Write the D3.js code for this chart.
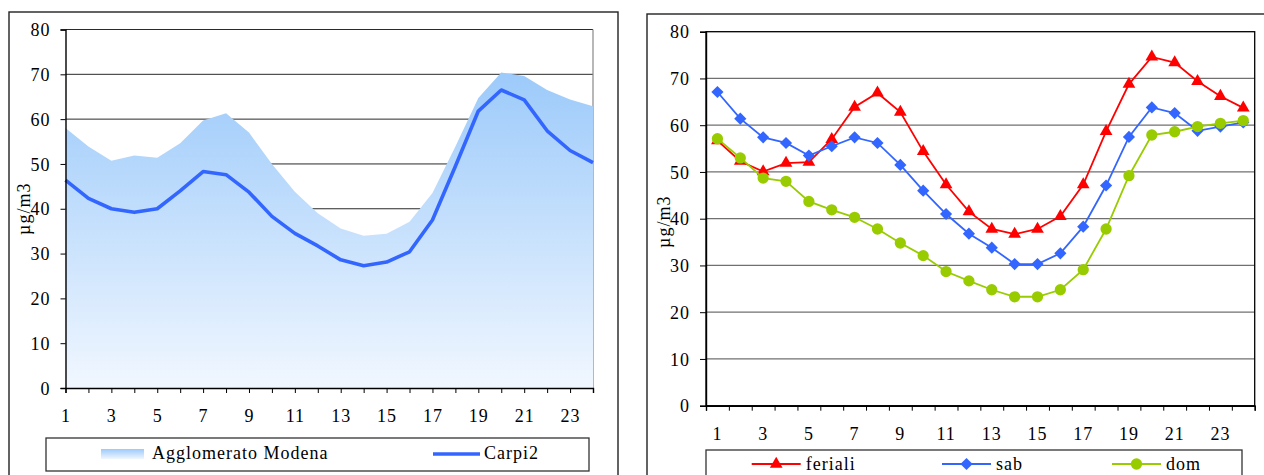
<!DOCTYPE html>
<html><head><meta charset="utf-8">
<script src="https://cdn.jsdelivr.net/npm/d3@7"></script>
<style>
html,body{margin:0;padding:0;background:#fff;}
svg{display:block;}
text{font-family:"Liberation Serif","Times New Roman",serif;font-size:18px;letter-spacing:1px;fill:#000;}
</style></head>
<body>
<svg id="c" width="1264" height="475"></svg>
<script>
const hours = d3.range(1, 25);
const yTicks = [0, 10, 20, 30, 40, 50, 60, 70, 80];
const xLabels = [1, 3, 5, 7, 9, 11, 13, 15, 17, 19, 21, 23];
const yTitle = "µg/m3";

// Left chart
const modena = [58.0, 53.9, 50.7, 51.9, 51.4, 54.6, 59.7, 61.3, 57.0, 50.0, 43.8, 39.0, 35.6, 34.0, 34.4, 37.1, 43.5, 53.9, 64.7, 70.4, 69.6, 66.5, 64.4, 62.9];
const carpi2 = [46.4, 42.3, 40.0, 39.2, 40.0, 44.0, 48.3, 47.6, 43.7, 38.3, 34.5, 31.7, 28.6, 27.3, 28.1, 30.4, 37.5, 49.5, 61.8, 66.5, 64.3, 57.4, 53.0, 50.3];
const leftLegend = ["Agglomerato Modena", "Carpi2"];

// Right chart
const feriali = [56.7, 52.3, 50.1, 51.9, 52.1, 57.0, 63.9, 66.9, 62.8, 54.4, 47.3, 41.5, 37.8, 36.7, 37.8, 40.5, 47.3, 58.7, 68.8, 74.6, 73.4, 69.4, 66.2, 63.7];
const sab = [67.1, 61.4, 57.4, 56.2, 53.5, 55.5, 57.4, 56.2, 51.5, 46.0, 41.0, 36.8, 33.8, 30.3, 30.3, 32.6, 38.3, 47.1, 57.5, 63.8, 62.6, 58.8, 59.7, 60.6];
const dom = [57.1, 53.0, 48.7, 48.0, 43.7, 41.9, 40.3, 37.8, 34.8, 32.1, 28.7, 26.7, 24.8, 23.3, 23.3, 24.8, 29.1, 37.8, 49.2, 57.9, 58.6, 59.7, 60.4, 61.0];
const rightNames = ["feriali", "sab", "dom"];

const svg = d3.select("#c");
const defs = svg.append("defs");
const grad = defs.append("linearGradient").attr("id", "ag").attr("x1", 0).attr("y1", 0).attr("x2", 0).attr("y2", 1);
grad.append("stop").attr("offset", "0%").attr("stop-color", "#9ccafa");
grad.append("stop").attr("offset", "100%").attr("stop-color", "#f1f7ff");

// ---------- LEFT PANEL ----------
svg.append("rect").attr("x", 9).attr("y", 12).attr("width", 609).attr("height", 480)
  .attr("fill", "#fff").attr("stroke", "#222").attr("stroke-width", 1.4);

const xL = d3.scalePoint().domain(hours).range([65.5, 593]);
const yL = d3.scaleLinear().domain([0, 80]).range([388, 29.5]);

const gL = svg.append("g");
gL.selectAll("line.grid").data(yTicks.filter(d => d > 0)).join("line")
  .attr("x1", 65.5).attr("x2", 593).attr("y1", d => yL(d)).attr("y2", d => yL(d))
  .attr("stroke", "#2a2a2a").attr("stroke-width", 1);
gL.append("line").attr("x1", 593).attr("x2", 593).attr("y1", yL(80)).attr("y2", yL(0))
  .attr("stroke", "#888").attr("stroke-width", 1.2);

const area = d3.area().x((d, i) => xL(hours[i])).y0(yL(0)).y1(d => yL(d));
gL.append("path").datum(modena).attr("d", area).attr("fill", "url(#ag)");

const lineL = d3.line().x((d, i) => xL(hours[i])).y(d => yL(d));
gL.append("path").datum(carpi2).attr("d", lineL).attr("fill", "none")
  .attr("stroke", "#3366ff").attr("stroke-width", 3.6).attr("stroke-linejoin", "round");

// axes
const axLy = gL.append("g").attr("transform", "translate(65.5,0)")
  .call(d3.axisLeft(yL).tickValues(yTicks).tickSize(5).tickPadding(10).tickFormat(d3.format("d")));
const axLx = gL.append("g").attr("transform", `translate(0,${yL(0)})`)
  .call(d3.axisBottom(xL).tickSize(5).tickFormat(d => xLabels.includes(d) ? d : ""));
[axLy, axLx].forEach(a => {
  a.attr("font-size", null).attr("font-family", null);
  a.select(".domain").attr("stroke", "#000").attr("stroke-width", 1.4);
  a.selectAll(".tick line").attr("stroke", "#000").attr("stroke-width", 1);
  a.selectAll("text").attr("fill", "#000");
});
axLy.selectAll("text").attr("dy", "0.34em");
axLx.selectAll("text").attr("dy", null).attr("y", 33.5);

svg.append("text").attr("transform", `translate(30,${(yL(0) + yL(80)) / 2}) rotate(-90)`)
  .attr("text-anchor", "middle").text(yTitle);

// legend left
svg.append("rect").attr("x", 46).attr("y", 438).attr("width", 543).attr("height", 33)
  .attr("fill", "#fff").attr("stroke", "#333").attr("stroke-width", 1.3);
svg.append("rect").attr("x", 101).attr("y", 449).attr("width", 43).attr("height", 10).attr("fill", "url(#ag)");
svg.append("text").attr("x", 152).attr("y", 459).text(leftLegend[0]);
svg.append("line").attr("x1", 433).attr("x2", 480).attr("y1", 454).attr("y2", 454)
  .attr("stroke", "#3366ff").attr("stroke-width", 3.6);
svg.append("text").attr("x", 484).attr("y", 459).text(leftLegend[1]);

// ---------- RIGHT PANEL ----------
svg.append("rect").attr("x", 647).attr("y", 14).attr("width", 640).attr("height", 480)
  .attr("fill", "#fff").attr("stroke", "#222").attr("stroke-width", 1.4);

const xR = d3.scaleBand().domain(hours).range([706, 1254.7]);
const xRb = d3.scaleLinear().domain([0, 24]).range([706, 1254.7]);
const yR = d3.scaleLinear().domain([0, 80]).range([405.7, 31.7]);
const gR = svg.append("g");
gR.selectAll("line.grid").data(yTicks.filter(d => d > 0 && d < 80)).join("line")
  .attr("x1", 706).attr("x2", 1254.7).attr("y1", d => yR(d)).attr("y2", d => yR(d))
  .attr("stroke", "#707070").attr("stroke-width", 1.3);
gR.append("rect").attr("x", 706).attr("y", yR(80)).attr("width", 1254.7 - 706).attr("height", yR(0) - yR(80))
  .attr("fill", "none").attr("stroke", "#000").attr("stroke-width", 1.3);

const axRy = gR.append("g").attr("transform", "translate(706,0)")
  .call(d3.axisLeft(yR).tickValues(yTicks).tickSize(6).tickPadding(10).tickFormat(d3.format("d")));
const axRt = gR.append("g").attr("transform", `translate(0,${yR(0)})`)
  .call(d3.axisBottom(xRb).tickValues(d3.range(0, 25)).tickSize(5).tickFormat(""));
const axRx = gR.append("g").attr("transform", `translate(0,${yR(0)})`)
  .call(d3.axisBottom(xR).tickSize(0).tickFormat(d => xLabels.includes(d) ? d : ""));
axRx.select(".domain").remove();
[axRy, axRt, axRx].forEach(a => a.attr("font-size", null).attr("font-family", null));
[axRy, axRt].forEach(a => {
  a.select(".domain").attr("stroke", "#000").attr("stroke-width", 1.4);
  a.selectAll(".tick line").attr("stroke", "#000").attr("stroke-width", 1);
});
[axRy, axRx].forEach(a => a.selectAll("text").attr("fill", "#000"));
axRy.selectAll("text").attr("dy", "0.34em");
axRx.selectAll("text").attr("dy", null).attr("y", 34.3);

svg.append("text").attr("transform", `translate(670,${(yR(0) + yR(80)) / 2 + 3}) rotate(-90)`)
  .attr("text-anchor", "middle").text(yTitle);

const series = [
  {name: rightNames[0], vals: feriali, color: "#ff0000", sym: d3.symbolTriangle, size: 70, rot: 0},
  {name: rightNames[1], vals: sab, color: "#3366ff", sym: d3.symbolSquare, size: 74, rot: 45},
  {name: rightNames[2], vals: dom, color: "#99cc00", sym: d3.symbolCircle, size: 100, rot: 0}
];
const lineR = d3.line().x((d, i) => xR(hours[i]) + xR.bandwidth() / 2).y(d => yR(d));
series.forEach(s => {
  const g = gR.append("g");
  g.append("path").datum(s.vals).attr("d", lineR).attr("fill", "none")
    .attr("stroke", s.color).attr("stroke-width", 1.8);
  g.selectAll("path.m").data(s.vals).join("path").attr("class", "m")
    .attr("d", d3.symbol(s.sym, s.size))
    .attr("transform", (d, i) => `translate(${xR(hours[i]) + xR.bandwidth() / 2},${yR(d)}) rotate(${s.rot})`)
    .attr("fill", s.color);
});

// legend right
svg.append("rect").attr("x", 706).attr("y", 450).attr("width", 536).attr("height", 40)
  .attr("fill", "#fff").attr("stroke", "#333").attr("stroke-width", 1.3);
const legX = [751.7, 942, 1112];
series.forEach((s, i) => {
  const x0 = legX[i];
  svg.append("line").attr("x1", x0).attr("x2", x0 + 49).attr("y1", 464).attr("y2", 464)
    .attr("stroke", s.color).attr("stroke-width", 1.8);
  svg.append("path").attr("d", d3.symbol(s.sym, s.size))
    .attr("transform", `translate(${x0 + 24.5},464) rotate(${s.rot})`).attr("fill", s.color);
  svg.append("text").attr("x", x0 + 54).attr("y", 470).text(s.name);
});
</script>
</body></html>
